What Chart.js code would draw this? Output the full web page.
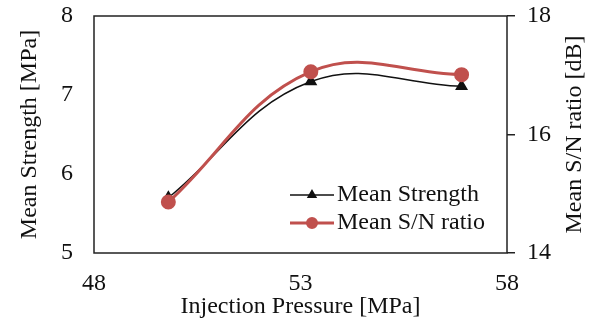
<!DOCTYPE html>
<html>
<head>
<meta charset="utf-8">
<script src="https://cdn.jsdelivr.net/npm/chart.js@4"></script>
<style>
	html, body { margin: 0; padding: 0; background: #fff; }
</style>
</head>
<body>
<canvas id="chart" width="602" height="324"></canvas>
<script>
// values
const pressure = [49.8, 53.25, 56.9]
const meanStrength = [5.70, 7.17, 7.11]
const meanSN = [14.86, 17.06, 17.01]

const xTicks = [48, 53, 58]
const strengthTicks = [5, 6, 7, 8]
const snTicks = [14, 16, 18]
const snTitle = 'Mean S/N ratio [dB]'

const ink = '#111'
const red = '#c0504d'
const serif = { family: '"Liberation Serif", "Times New Roman", serif', size: 24 }

const points = (xs, ys) => xs.map((x, i) => ({ x, y: ys[i] }))

// fixed scale box, no extra label padding pushing the plot area
const fixBox = (w, h) => (s) => {
	if (w) s.width = w
	if (h) s.height = h
	s.paddingTop = 0
	s.paddingBottom = 0
	s.paddingLeft = 0
	s.paddingRight = 0
}

// box round the plot area
const frame = {
	id: 'frame',
	beforeDatasetsDraw(chart) {
		const { ctx, chartArea: a } = chart
		ctx.save()
		ctx.strokeStyle = '#222'
		ctx.lineWidth = 1.5
		ctx.strokeRect(a.left, a.top, a.right - a.left, a.bottom - a.top)
		ctx.restore()
	},
}

// right axis title reads bottom to top, like the left one
const rightTitle = {
	id: 'rightTitle',
	afterDraw(chart) {
		const { ctx, chartArea: a } = chart
		ctx.save()
		ctx.font = `${serif.size}px ${serif.family}`
		ctx.fillStyle = ink
		ctx.textAlign = 'center'
		ctx.textBaseline = 'middle'
		ctx.translate(575, (a.top + a.bottom) / 2)
		ctx.rotate(-Math.PI / 2)
		ctx.fillText(snTitle, 0, 0)
		ctx.restore()
	},
}

// legend sits inside the plot, lower right
const insideLegend = {
	id: 'insideLegend',
	afterDraw(chart) {
		const { ctx } = chart
		const x0 = 290
		const rows = [195, 223]
		ctx.save()
		ctx.font = `${serif.size}px ${serif.family}`
		ctx.textBaseline = 'middle'
		chart.data.datasets.forEach((ds, i) => {
			const y = rows[i]
			ctx.strokeStyle = ds.borderColor
			ctx.lineWidth = ds.borderWidth
			ctx.beginPath()
			ctx.moveTo(x0, y)
			ctx.lineTo(x0 + 44, y)
			ctx.stroke()
			ctx.fillStyle = ds.pointBackgroundColor
			ctx.strokeStyle = ds.pointBorderColor
			Chart.helpers.drawPoint(ctx, {
				pointStyle: ds.pointStyle,
				radius: ds.pointRadius - 1.5,
				rotation: 0,
				borderWidth: 1,
			}, x0 + 22, y)
			ctx.fillStyle = ink
			ctx.fillText(ds.label, x0 + 47, y)
		})
		ctx.restore()
	},
}

new Chart(document.getElementById('chart'), {
	type: 'line',
	data: {
		datasets: [
			{
				label: 'Mean Strength',
				data: points(pressure, meanStrength),
				yAxisID: 'y',
				borderColor: ink,
				borderWidth: 1.5,
				pointStyle: 'triangle',
				pointRadius: 6,
				pointBackgroundColor: ink,
				pointBorderColor: ink,
				tension: 0.4,
				order: 1,
			},
			{
				label: 'Mean S/N ratio',
				data: points(pressure, meanSN),
				yAxisID: 'y2',
				borderColor: red,
				borderWidth: 3,
				pointStyle: 'circle',
				pointRadius: 6,
				pointBackgroundColor: red,
				pointBorderColor: red,
				tension: 0.4,
				order: 0,
			},
		],
	},
	options: {
		responsive: false,
		animation: false,
		layout: { padding: { top: 16, left: 0, right: 0, bottom: 0 } },
		plugins: {
			legend: { display: false },
			tooltip: { enabled: false },
		},
		scales: {
			x: {
				type: 'linear',
				min: xTicks[0],
				max: xTicks[xTicks.length - 1],
				afterBuildTicks: (s) => { s.ticks = xTicks.map((v) => ({ value: v })) },
				afterFit: fixBox(0, 71),
				grid: { display: false, drawTicks: false },
				border: { display: false },
				ticks: { color: ink, font: serif, padding: 16, maxRotation: 0 },
				title: {
					display: true,
					text: 'Injection Pressure [MPa]',
					color: ink,
					font: serif,
					padding: { top: 0, bottom: 3 },
				},
			},
			y: {
				position: 'left',
				min: strengthTicks[0],
				max: strengthTicks[strengthTicks.length - 1],
				afterBuildTicks: (s) => { s.ticks = strengthTicks.map((v) => ({ value: v })) },
				afterFit: fixBox(94, 0),
				grid: { display: false, drawTicks: false },
				border: { display: false },
				ticks: { color: ink, font: serif, padding: 21 },
				title: {
					display: true,
					text: 'Mean Strength [MPa]',
					color: ink,
					font: serif,
					padding: { top: 15, bottom: 0 },
				},
			},
			y2: {
				position: 'right',
				min: snTicks[0],
				max: snTicks[snTicks.length - 1],
				afterBuildTicks: (s) => { s.ticks = snTicks.map((v) => ({ value: v })) },
				afterFit: fixBox(95, 0),
				grid: { drawOnChartArea: false, drawTicks: true, tickLength: 8, color: '#222', lineWidth: 1.5 },
				border: { display: false },
				ticks: { color: ink, font: serif, padding: 12 },
			},
		},
	},
	plugins: [frame, rightTitle, insideLegend],
})
</script>
</body>
</html>
